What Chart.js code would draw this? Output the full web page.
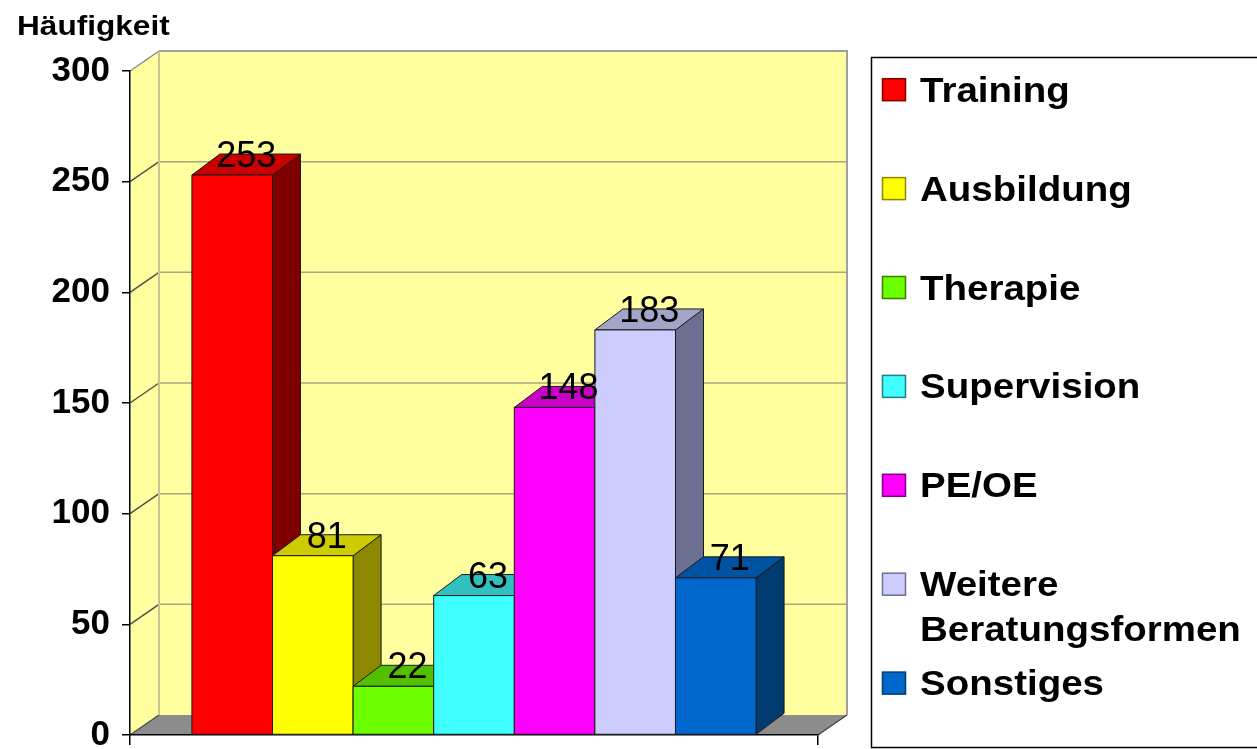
<!DOCTYPE html>
<html><head><meta charset="utf-8">
<script src="https://cdn.jsdelivr.net/npm/chart.js@4.4.1/dist/chart.umd.min.js"></script>
<style>html,body{margin:0;padding:0;background:#fff;overflow:hidden}#wrap{width:1257px;height:749px;position:relative}</style>
</head><body><div id="wrap"><canvas id="c"></canvas></div>
<script>
const categories = ['Training','Ausbildung','Therapie','Supervision','PE/OE','Weitere Beratungsformen','Sonstiges'];
const legendLines = [['Training'],['Ausbildung'],['Therapie'],['Supervision'],['PE/OE'],['Weitere','Beratungsformen'],['Sonstiges']];
const values = [253, 81, 22, 63, 148, 183, 71];
const frontColors = ['#ff0000','#ffff00','#6cff00','#40ffff','#ff00ff','#ccccff','#0068cc'];
const topColors   = ['#c80000','#cccc00','#52c000','#30c0c0','#c800c8','#a2a4c8','#0052a3'];
const sideColors  = ['#800000','#8c8800','#387f00','#208080','#800080','#6c7090','#003c70'];
const yTicks = [0, 50, 100, 150, 200, 250, 300];
const yAxisTitle = 'Häufigkeit';

const DX = 29, DY = 20;     // wall depth
const BDX = 28, BDY = 21;   // bar depth
const FONT = '"Liberation Sans", Arial, sans-serif';

function poly(ctx, pts, fill, stroke) {
  ctx.beginPath();
  ctx.moveTo(pts[0][0], pts[0][1]);
  for (let k = 1; k < pts.length; k++) ctx.lineTo(pts[k][0], pts[k][1]);
  ctx.closePath();
  if (fill) { ctx.fillStyle = fill; ctx.fill(); }
  if (stroke) { ctx.strokeStyle = stroke; ctx.stroke(); }
}

const walls = {
  id: 'walls',
  beforeDraw(chart) {
    const {ctx, chartArea: a, scales: {y}} = chart;
    const yMin = y.min, yMax = y.max;
    ctx.save();
    ctx.fillStyle = '#ffffa0';
    ctx.fillRect(a.left + DX, a.top - DY, a.right - a.left, a.bottom - a.top);
    poly(ctx, [[a.left, a.bottom], [a.left, a.top], [a.left + DX, a.top - DY], [a.left + DX, a.bottom - DY]], '#ffffa0');
    // floor
    poly(ctx, [[a.left, a.bottom], [a.left + DX, a.bottom - DY], [a.right + DX, a.bottom - DY], [a.right, a.bottom]], '#8c8c8c');
    // gridlines
    ctx.lineWidth = 1.5;
    yTicks.forEach(v => {
      const py = y.getPixelForValue(v);
      if (v > yMin && v < yMax) {
        ctx.strokeStyle = '#aaa67a';
        ctx.beginPath(); ctx.moveTo(a.left + DX, py - DY); ctx.lineTo(a.right + DX, py - DY); ctx.stroke();
      }
      ctx.strokeStyle = v === yMax ? '#8a8a8a' : '#505050';
      ctx.beginPath(); ctx.moveTo(a.left, py); ctx.lineTo(a.left + DX, py - DY); ctx.stroke();
    });
    // back wall left edge
    ctx.strokeStyle = '#c8c494'; ctx.lineWidth = 2;
    ctx.beginPath(); ctx.moveTo(a.left + DX, a.top - DY); ctx.lineTo(a.left + DX, a.bottom - DY); ctx.stroke();
    // back wall top/right border
    ctx.strokeStyle = '#a0a0a0'; ctx.lineWidth = 2;
    ctx.beginPath(); ctx.moveTo(a.left + DX, a.top - DY); ctx.lineTo(a.right + DX, a.top - DY); ctx.lineTo(a.right + DX, a.bottom - DY); ctx.stroke();
    // floor right edge
    ctx.strokeStyle = '#404040'; ctx.lineWidth = 1.2;
    ctx.beginPath(); ctx.moveTo(a.right, a.bottom); ctx.lineTo(a.right + DX, a.bottom - DY); ctx.stroke();
    ctx.restore();
  }
};

const bars3d = {
  id: 'bars3d',
  afterDatasetsDraw(chart) {
    const ctx = chart.ctx;
    ctx.save();
    ctx.lineWidth = 1; ctx.lineJoin = 'round';
    const geo = [];
    chart.data.datasets.forEach((ds, i) => {
      const el = chart.getDatasetMeta(i).data[0];
      const {x, y, base, width} = el.getProps(['x', 'y', 'base', 'width'], true);
      const l = x - width / 2, r = x + width / 2;
      poly(ctx, [[r, y], [r + BDX, y - BDY], [r + BDX, base - BDY], [r, base]], sideColors[i], '#1a1a1a');
      poly(ctx, [[l, y], [l + BDX, y - BDY], [r + BDX, y - BDY], [r, y]], topColors[i], '#1a1a1a');
      poly(ctx, [[l, y], [r, y], [r, base], [l, base]], frontColors[i], '#1a1a1a');
      geo.push({x, y, v: ds.data[0]});
    });
    ctx.font = '36px ' + FONT;
    ctx.fillStyle = '#000';
    ctx.textAlign = 'center';
    ctx.textBaseline = 'alphabetic';
    geo.forEach(g => ctx.fillText(String(g.v), g.x + 14, g.y - 8));
    ctx.restore();
  },
  afterDraw(chart) {
    const ctx = chart.ctx;
    ctx.save();
    // title
    ctx.fillStyle = '#000';
    ctx.font = 'bold 27px ' + FONT;
    ctx.textBaseline = 'alphabetic';
    ctx.translate(17, 35); ctx.scale(1.17, 1);
    ctx.fillText(yAxisTitle, 0, 0);
    ctx.restore();
    // legend box
    ctx.save();
    ctx.fillStyle = '#fff';
    ctx.fillRect(871.5, 57.5, 420, 690);
    ctx.strokeStyle = '#000'; ctx.lineWidth = 1.5;
    ctx.strokeRect(871.5, 57.5, 420, 690);
    legendLines.forEach((lines, i) => {
      const bl = 101.7 + i * 98.9;
      ctx.fillStyle = frontColors[i];
      ctx.fillRect(882.5, bl - 23, 23, 22);
      ctx.strokeStyle = sideColors[i]; ctx.lineWidth = 1.5;
      ctx.strokeRect(882.5, bl - 23, 23, 22);
      ctx.fillStyle = '#000';
      ctx.font = 'bold 35px ' + FONT;
      lines.forEach((t, j) => {
        ctx.save();
        ctx.translate(920, bl + j * 45); ctx.scale(1.1, 1);
        ctx.fillText(t, 0, 0);
        ctx.restore();
      });
    });
    ctx.restore();
  }
};

new Chart(document.getElementById('c'), {
  type: 'bar',
  data: {
    labels: [''],
    datasets: categories.map((c, i) => ({
      label: c, data: [values[i]],
      backgroundColor: frontColors[i], borderColor: '#1a1a1a', borderWidth: 1,
      barPercentage: 1, categoryPercentage: 0.82
    }))
  },
  options: {
    responsive: true, maintainAspectRatio: false, animation: false, devicePixelRatio: 1,
    events: [],
    layout: {padding: {left: 0, top: 71, right: 439, bottom: 4}},
    plugins: {legend: {display: false}, tooltip: {enabled: false}, title: {display: false}},
    scales: {
      x: {
        display: true, offset: true,
        grid: {offset: true, drawOnChartArea: false, tickLength: 10, color: '#000', lineWidth: 1.5},
        border: {display: true, color: '#000', width: 1.5},
        ticks: {display: false}
      },
      y: {
        min: 0, max: 300,
        afterBuildTicks: s => { s.ticks = yTicks.map(v => ({value: v})); },
        afterFit: s => { s.width = 130; s.paddingTop = 0; s.paddingBottom = 0; },
        grid: {drawOnChartArea: false, tickLength: 8, color: '#000', lineWidth: 1.5},
        border: {display: true, color: '#000', width: 1.5},
        ticks: {font: {family: FONT, size: 35, weight: 'bold'}, color: '#000', padding: 12}
      }
    }
  },
  plugins: [walls, bars3d]
});
</script>
</body></html>
